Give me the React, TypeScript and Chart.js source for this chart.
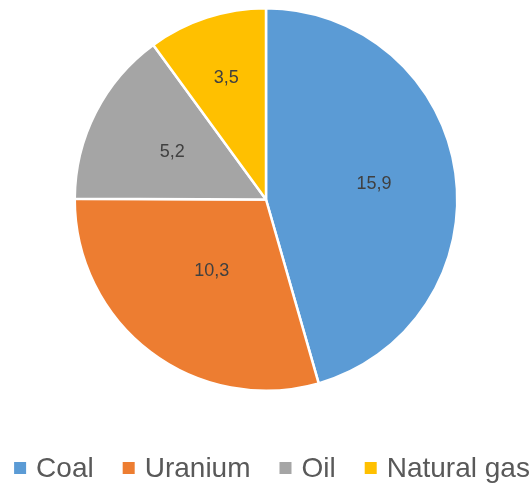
import React, { useEffect, useRef } from "react";
import { Chart, registerables } from "chart.js";

Chart.register(...registerables);

const CATEGORIES = ["Coal", "Uranium", "Oil", "Natural gas"];
const VALUES = [15.9, 10.3, 5.2, 3.5];
const VALUE_LABELS = ["15,9", "10,3", "5,2", "3,5"];
const COLORS = ["#5B9BD5", "#ED7D31", "#A5A5A5", "#FFC000"];
const LABEL_RADIUS_FACTOR = [0.57, 0.47, 0.55, 0.67];

const FONT = "'Liberation Sans', Arial, sans-serif";

const labelPlugin = {
  id: "valueLabels",
  afterDatasetsDraw(chart: any) {
    const ctx = chart.ctx;
    const meta = chart.getDatasetMeta(0);
    ctx.save();
    ctx.font = `18px ${FONT}`;
    ctx.fillStyle = "#404040";
    ctx.textAlign = "center";
    ctx.textBaseline = "middle";
    meta.data.forEach((arc: any, i: number) => {
      const { x, y, startAngle, endAngle, outerRadius } = arc.getProps(
        ["x", "y", "startAngle", "endAngle", "outerRadius"],
        true
      );
      const mid = (startAngle + endAngle) / 2;
      const r = outerRadius * LABEL_RADIUS_FACTOR[i];
      ctx.fillText(VALUE_LABELS[i], x + Math.cos(mid) * r, y + Math.sin(mid) * r);
    });
    ctx.restore();
  },
};

const legendPlugin = {
  id: "customLegend",
  afterDraw(chart: any) {
    const ctx = chart.ctx;
    ctx.save();
    ctx.font = `28px ${FONT}`;
    const box = 12;
    const gapBoxText = 10;
    const gapItems = 29;
    const widths = CATEGORIES.map((c) => ctx.measureText(c).width);
    const total =
      widths.reduce((a, b) => a + b, 0) +
      CATEGORIES.length * (box + gapBoxText) +
      (CATEGORIES.length - 1) * gapItems;
    let x = chart.width / 2 + 6 - total / 2;
    const yc = 468;
    ctx.textBaseline = "middle";
    ctx.textAlign = "left";
    CATEGORIES.forEach((c, i) => {
      ctx.fillStyle = COLORS[i];
      ctx.fillRect(x, yc - box / 2, box, box);
      x += box + gapBoxText;
      ctx.fillStyle = "#595959";
      ctx.fillText(c, x, yc + 1);
      x += widths[i] + gapItems;
    });
    ctx.restore();
  },
};

export default function App() {
  const ref = useRef<HTMLCanvasElement>(null);
  useEffect(() => {
    if (!ref.current) return;
    const chart = new Chart(ref.current, {
      type: "pie",
      data: {
        labels: CATEGORIES,
        datasets: [
          {
            data: VALUES,
            backgroundColor: COLORS,
            borderColor: "#FFFFFF",
            borderWidth: 2.5,
          },
        ],
      },
      options: {
        animation: false,
        responsive: false,
        maintainAspectRatio: false,
        layout: { padding: { top: 7, bottom: 93, left: 0, right: 0 } },
        plugins: {
          legend: { display: false },
          tooltip: { enabled: false },
        },
      },
      plugins: [labelPlugin, legendPlugin],
    });
    return () => chart.destroy();
  }, []);
  return (
    <div style={{ position: "fixed", left: 0, top: 0, width: 532, height: 485, background: "#fff" }}>
      <canvas ref={ref} width={532} height={485} style={{ width: 532, height: 485 }} />
    </div>
  );
}
